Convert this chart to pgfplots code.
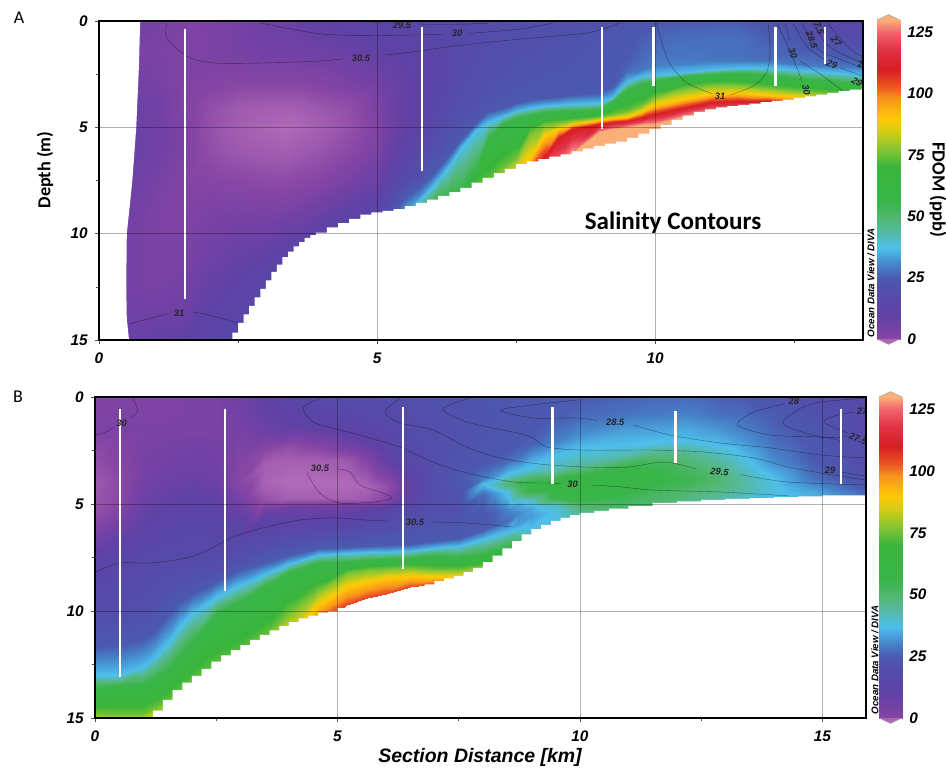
\documentclass[border=0pt]{standalone}
\usepackage{fontspec}
\setmainfont{Liberation Sans}
\newfontfamily\calibri{Carlito}
\usepackage{pgfplots}
\pgfplotsset{compat=1.18}
\pgfplotsset{
  colormap={odv}{[1pt]
    rgb255(0pt)=(176,106,184); rgb255(5pt)=(158,90,175); rgb255(10pt)=(136,70,165);
    rgb255(15pt)=(115,65,165); rgb255(20pt)=(95,65,165); rgb255(28pt)=(85,75,170);
    rgb255(35pt)=(75,90,175); rgb255(40pt)=(70,130,200); rgb255(47pt)=(78,190,235);
    rgb255(55pt)=(85,185,150); rgb255(60pt)=(80,183,110); rgb255(66pt)=(57,181,74);
    rgb255(80pt)=(57,181,60); rgb255(88pt)=(140,198,50); rgb255(95pt)=(215,205,20);
    rgb255(100pt)=(255,200,5); rgb255(108pt)=(247,148,29); rgb255(113pt)=(235,85,35);
    rgb255(120pt)=(215,30,35); rgb255(128pt)=(225,50,70); rgb255(135pt)=(240,100,110);
    rgb255(140pt)=(250,175,120);
  },
  sect/.style={
    scale only axis, anchor=south west, y dir=reverse,
    ymin=0, ymax=15, xmin=0,
    ytick={0,5,10,15}, minor ytick={2.5,7.5,12.5},
    grid=major, grid style={black, opacity=0.3, line width=0.5pt},
    axis on top, axis line style={line width=1.1pt},
    tick style={black!70, line width=0.4pt}, tick align=outside,
    major tick length=3pt, minor tick length=2pt,
    xtick pos=bottom, ytick pos=left,
    /pgf/number format/assume math mode=true,
    tick label style={font=\fontsize{11.5}{13}\selectfont\bfseries\itshape},
    xticklabel style={yshift=-3pt}, yticklabel style={xshift=-2pt},
    point meta min=-10, point meta max=130,
  },
  field/.style={surf, shader=interp, point meta=explicit, mesh/rows=14, mesh/ordering=y varies, forget plot},
  cont/.style={black, line width=0.3pt, opacity=0.45, smooth, forget plot},
  cast/.style={white, line width=1.9pt, forget plot},
  mask/.style={fill=white, draw=none, forget plot},
  cbar/.style={
    scale only axis, anchor=south west, width=17.25pt, xmin=0, xmax=1, ymin=0, ymax=130,
    clip=false, xtick=\empty, ytick={0,25,50,75,100,125},
    ytick pos=both, yticklabel pos=right, tick align=inside, major tick length=3pt,
    tick style={black!70, line width=0.5pt}, axis line style={black!35, line width=0.6pt},
    /pgf/number format/assume math mode=true,
    tick label style={font=\fontsize{11.5}{13}\selectfont\bfseries\itshape},
    yticklabel style={xshift=2pt},
    point meta min=-10, point meta max=130,
  },
}
\tikzset{lab/.style={font=\fontsize{7}{8}\selectfont\bfseries\itshape, text=black!85, inner sep=0pt}}
\begin{document}
\begin{tikzpicture}
\path[use as bounding box] (0,0) rectangle (709.5pt,576.75pt);

% panel A
\begin{axis}[sect, at={(74.25pt,321.75pt)}, width=573pt, height=239.25pt, xmax=13.74,
  xtick={0,5,10}, minor xtick={2.5,7.5,12.5}]
\addplot[field] coordinates {
(0.4,0)[5] (0.4,1.5)[4] (0.4,3)[6] (0.4,4)[7] (0.4,5)[8] (0.4,6)[8] (0.4,7.5)[7] (0.4,9)[6] (0.4,10.5)[5] (0.4,12)[5] (0.4,13.5)[6] (0.4,15)[8] (0.4,17)[10] (0.4,20)[12]
(1,0)[4] (1,1.5)[3] (1,3)[4] (1,4)[6] (1,5)[6] (1,6)[6] (1,7.5)[4] (1,9)[3] (1,10.5)[3] (1,12)[3] (1,13.5)[5] (1,15)[9] (1,17)[12] (1,20)[15]
(1.5,0)[3] (1.5,1.5)[2] (1.5,3)[2] (1.5,4)[2] (1.5,5)[3] (1.5,6)[3] (1.5,7.5)[2] (1.5,9)[2] (1.5,10.5)[3] (1.5,12)[4] (1.5,13.5)[6] (1.5,15)[10] (1.5,17)[14] (1.5,20)[18]
(2,0)[3] (2,1.5)[3] (2,3)[1] (2,4)[-2] (2,5)[-3] (2,6)[-2] (2,7.5)[1] (2,9)[3] (2,10.5)[5] (2,12)[8] (2,13.5)[10] (2,15)[13] (2,17)[16] (2,20)[20]
(2.5,0)[4] (2.5,1.5)[4] (2.5,3)[0] (2.5,4)[-5] (2.5,5)[-6.5] (2.5,6)[-5] (2.5,7.5)[0] (2.5,9)[4] (2.5,10.5)[7] (2.5,12)[10] (2.5,13.5)[13] (2.5,15)[16] (2.5,17)[20] (2.5,20)[24]
(3,0)[6] (3,1.5)[5] (3,3)[0] (3,4)[-6] (3,5)[-8.5] (3,6)[-6] (3,7.5)[-1] (3,9)[3] (3,10.5)[8] (3,12)[13] (3,13.5)[16] (3,15)[20] (3,17)[24] (3,20)[28]
(3.4,0)[7] (3.4,1.5)[5] (3.4,3)[0] (3.4,4)[-6.5] (3.4,5)[-10] (3.4,6)[-6.5] (3.4,7.5)[-1] (3.4,9)[4] (3.4,10.5)[10] (3.4,12)[16] (3.4,13.5)[20] (3.4,15)[24] (3.4,17)[28] (3.4,20)[30]
(4,0)[10] (4,1.5)[6] (4,3)[1] (4,4)[-4] (4,5)[-6.5] (4,6)[-4] (4,7.5)[1] (4,9)[7] (4,10.5)[15] (4,12)[22] (4,13.5)[26] (4,15)[30] (4,17)[32] (4,20)[34]
(4.5,0)[12] (4.5,1.5)[7] (4.5,3)[3] (4.5,4)[-2] (4.5,5)[-3] (4.5,6)[-1] (4.5,7.5)[4] (4.5,9)[11] (4.5,10.5)[20] (4.5,12)[26] (4.5,13.5)[30] (4.5,15)[34] (4.5,17)[36] (4.5,20)[38]
(5,0)[14] (5,1.5)[9] (5,3)[5] (5,4)[3] (5,5)[2] (5,6)[3] (5,7.5)[7] (5,9)[14] (5,10.5)[25] (5,12)[30] (5,13.5)[34] (5,15)[36] (5,17)[38] (5,20)[40]
(5.5,0)[15] (5.5,1.5)[11] (5.5,3)[9] (5.5,5)[9] (5.5,6.5)[13] (5.5,7.5)[18] (5.5,8.3)[25] (5.5,9.2)[37] (5.5,9.8)[57] (5.5,10.5)[75] (5.5,11)[90] (5.5,11.5)[110] (5.5,12)[130] (5.5,20)[130]
(6,0)[16] (6,1.5)[14] (6,3)[13] (6,5)[16] (6,6)[20] (6,7)[24] (6,7.2)[25] (6,7.75)[37] (6,8.6)[57] (6,9.5)[75] (6,10)[90] (6,10.5)[110] (6,11)[130] (6,20)[130]
(6.25,0)[16] (6.25,1.5)[15] (6.25,3)[15] (6.25,4.5)[18] (6.25,5.5)[21] (6.25,6.1)[24] (6.25,6.4)[25] (6.25,6.95)[37] (6.25,8.3)[57] (6.25,9.2)[75] (6.25,9.7)[90] (6.25,10.2)[110] (6.25,10.7)[130] (6.25,20)[130]
(6.5,0)[17] (6.5,1.5)[17] (6.5,3)[18] (6.5,4)[20] (6.5,5)[22] (6.5,5.5)[24] (6.5,5.6)[25] (6.5,6)[37] (6.5,8.1)[57] (6.5,9)[75] (6.5,9.5)[90] (6.5,10)[110] (6.5,10.5)[130] (6.5,20)[130]
(6.75,0)[17.5] (6.75,1.5)[18] (6.75,3)[19.5] (6.75,4)[21] (6.75,4.6)[23] (6.75,4.8)[24] (6.75,4.9)[25] (6.75,5.2)[37] (6.75,7.1)[57] (6.75,8)[75] (6.75,8.7)[90] (6.75,9.2)[110] (6.75,9.7)[130] (6.75,20)[130]
(7,0)[18] (7,1)[19] (7,2)[20] (7,3)[21] (7,3.7)[22] (7,4.1)[24] (7,4.3)[25] (7,4.75)[37] (7,5.5)[57] (7,7.6)[75] (7,8.2)[90] (7,8.7)[110] (7,9.2)[130] (7,20)[130]
(7.25,0)[18.5] (7.25,1)[19.5] (7.25,2)[20.5] (7.25,3)[21.5] (7.25,3.6)[23] (7.25,3.95)[24] (7.25,4.1)[25] (7.25,4.5)[37] (7.25,4.85)[57] (7.25,6.9)[75] (7.25,7.6)[90] (7.25,8.2)[110] (7.25,8.7)[130] (7.25,20)[130]
(7.5,0)[19] (7.5,1)[20] (7.5,2)[21] (7.5,2.8)[22] (7.5,3.3)[23] (7.5,3.7)[24] (7.5,3.85)[25] (7.5,4.25)[37] (7.5,4.55)[57] (7.5,6.4)[75] (7.5,7.2)[90] (7.5,7.8)[110] (7.5,8.3)[130] (7.5,20)[130]
(7.75,0)[19.5] (7.75,1)[20.5] (7.75,2)[21.5] (7.75,2.7)[22.5] (7.75,3.15)[23] (7.75,3.55)[24] (7.75,3.7)[25] (7.75,4.08)[37] (7.75,4.4)[57] (7.75,5.2)[75] (7.75,6.45)[90] (7.75,7.2)[110] (7.75,8)[130] (7.75,20)[130]
(8,0)[20] (8,1)[21] (8,2)[22] (8,2.6)[23] (8,3)[23] (8,3.4)[24] (8,3.6)[25] (8,4)[37] (8,4.28)[57] (8,4.85)[75] (8,5.4)[90] (8,6.4)[110] (8,7.3)[130] (8,20)[130]
(8.25,0)[20] (8.25,1)[21.5] (8.25,2)[22.5] (8.25,2.6)[23] (8.25,3)[23.5] (8.25,3.35)[24] (8.25,3.55)[25] (8.25,3.95)[37] (8.25,4.25)[57] (8.25,4.77)[75] (8.25,5.1)[90] (8.25,5.5)[110] (8.25,6.9)[130] (8.25,20)[130]
(8.5,0)[20] (8.5,1)[22] (8.5,2)[23] (8.5,2.6)[23] (8.5,3)[24] (8.5,3.3)[24] (8.5,3.5)[25] (8.5,3.9)[37] (8.5,4.25)[57] (8.5,4.66)[75] (8.5,4.83)[90] (8.5,5.07)[110] (8.5,6.2)[130] (8.5,20)[130]
(9,0)[21] (9,1)[23] (9,1.8)[24] (9,2.4)[24] (9,2.9)[24] (9,3.2)[24] (9,3.4)[25] (9,3.85)[37] (9,4.15)[57] (9,4.5)[75] (9,4.65)[90] (9,4.82)[110] (9,5.2)[130] (9,20)[130]
(9.25,0)[21.5] (9.25,0.9)[23.5] (9.25,1.6)[24] (9.25,2.2)[24.5] (9.25,2.6)[25] (9.25,2.95)[25] (9.25,3.1)[26] (9.25,3.55)[37] (9.25,3.78)[57] (9.25,4.35)[75] (9.25,4.57)[90] (9.25,4.75)[110] (9.25,5.08)[130] (9.25,20)[130]
(9.5,0)[22] (9.5,0.8)[24] (9.5,1.4)[25] (9.5,1.8)[25] (9.5,2.1)[26] (9.5,2.3)[27] (9.5,2.4)[28] (9.5,2.85)[37] (9.5,3.25)[57] (9.5,4.23)[75] (9.5,4.5)[90] (9.5,4.7)[110] (9.5,5)[130] (9.5,20)[130]
(9.75,0)[23] (9.75,0.7)[25] (9.75,1.25)[26] (9.75,1.65)[27] (9.75,1.95)[27.5] (9.75,2.15)[28] (9.75,2.3)[29] (9.75,2.6)[37] (9.75,2.95)[57] (9.75,3.95)[75] (9.75,4.3)[90] (9.75,4.55)[110] (9.75,4.9)[130] (9.75,20)[130]
(10,0)[24] (10,0.6)[26] (10,1.1)[27] (10,1.5)[28] (10,1.8)[29] (10,2)[29] (10,2.15)[31] (10,2.52)[37] (10,2.77)[57] (10,3.52)[75] (10,3.95)[90] (10,4.37)[110] (10,4.84)[130] (10,20)[130]
(10.5,0)[25] (10.5,0.6)[27] (10.5,1.1)[28] (10.5,1.5)[28] (10.5,1.8)[29] (10.5,2)[30] (10.5,2.15)[33] (10.5,2.44)[37] (10.5,2.6)[57] (10.5,3.14)[75] (10.5,3.65)[90] (10.5,4.1)[110] (10.5,4.5)[130] (10.5,20)[130]
(11,0)[25] (11,0.5)[27] (11,1)[28] (11,1.4)[28] (11,1.7)[28] (11,1.95)[30] (11,2.05)[33] (11,2.3)[37] (11,2.5)[57] (11,2.95)[75] (11,3.42)[90] (11,3.82)[110] (11,4.25)[130] (11,20)[130]
(11.5,0)[25] (11.5,0.5)[27] (11.5,1)[28] (11.5,1.4)[28] (11.5,1.7)[28] (11.5,1.9)[29] (11.5,2)[33] (11.5,2.22)[37] (11.5,2.45)[57] (11.5,2.96)[75] (11.5,3.38)[90] (11.5,3.75)[110] (11.5,4.2)[130] (11.5,20)[130]
(12,0)[23] (12,0.5)[25] (12,1)[26] (12,1.4)[27] (12,1.7)[27] (12,1.9)[29] (12,2)[33] (12,2.22)[37] (12,2.55)[57] (12,3.1)[75] (12,3.47)[90] (12,3.75)[110] (12,4.3)[130] (12,20)[130]
(12.5,0)[20] (12.5,0.5)[23] (12.5,1)[25] (12.5,1.4)[26] (12.5,1.7)[27] (12.5,2)[29] (12.5,2.1)[33] (12.5,2.3)[37] (12.5,2.66)[57] (12.5,3.25)[75] (12.5,3.55)[90] (12.5,3.9)[110] (12.5,4.4)[130] (12.5,20)[130]
(13,0)[16] (13,0.5)[18] (13,1)[22] (13,1.4)[25] (13,1.8)[27] (13,2.1)[29] (13,2.2)[33] (13,2.4)[37] (13,2.78)[57] (13,3.35)[75] (13,3.7)[90] (13,4)[110] (13,4.5)[130] (13,20)[130]
(13.74,0)[14] (13.74,0.5)[16] (13.74,1)[19] (13.74,1.5)[23] (13.74,1.9)[26] (13.74,2.2)[29] (13.74,2.35)[33] (13.74,2.55)[37] (13.74,3)[57] (13.74,3.5)[75] (13.74,3.8)[90] (13.74,4.1)[110] (13.74,4.6)[130] (13.74,20)[130]
};
% sea floor and the land edge
\addplot[mask] coordinates {(0,0) (0.74,0) (0.72,2) (0.67,5) (0.6,7.5) (0.5,10) (0.49,12.5) (0.5,14) (0.54,15) (0,15)};
\addplot[mask, const plot] coordinates {(2.32,15) (2.4,14.65) (2.5,14.2) (2.6,13.8) (2.7,13.4) (2.8,13) (2.9,12.6) (3,12.2) (3.1,11.8) (3.2,11.45) (3.3,11.1) (3.4,10.85) (3.5,10.6) (3.6,10.4) (3.7,10.2) (3.8,10.07) (3.9,9.95) (4.1,9.7) (4.3,9.5) (4.5,9.3) (4.7,9.1) (4.9,9) (5.1,8.93) (5.3,8.85) (5.5,8.7) (5.7,8.55) (5.9,8.4) (6.1,8.22) (6.3,8.05) (6.5,7.85) (6.7,7.6) (6.9,7.38) (7.1,7.15) (7.3,6.95) (7.5,6.73) (7.7,6.6) (7.9,6.5) (8.1,6.38) (8.3,6.27) (8.5,6.13) (8.7,6) (8.9,5.87) (9.1,5.77) (9.3,5.67) (9.5,5.5) (9.7,5.3) (9.9,5.08) (10.1,4.88) (10.3,4.65) (10.5,4.45) (10.7,4.27) (10.9,4.15) (11.1,4.06) (11.3,4) (11.5,3.94) (11.7,3.88) (11.9,3.82) (12.1,3.76) (12.3,3.7) (12.5,3.62) (12.7,3.54) (12.9,3.46) (13.1,3.38) (13.3,3.3) (13.5,3.23) (13.74,3.15) (13.74,15) (2.32,15)};
% salinity contours
\addplot[cont] coordinates {(1.22,0.09) (1.22,0.8) (1.58,1.65) (2.05,1.97) (3.02,1.97) (3.97,1.88) (4.4,1.78)};
\addplot[cont] coordinates {(5.15,1.6) (5.77,1.41) (6.37,1.18) (7.57,0.85) (8.78,0.56) (9.37,0.09)};
\addplot[cont] coordinates {(2.9,0.09) (3.97,0.6) (5,0.68) (6.2,0.62)};
\addplot[cont] coordinates {(6.65,0.58) (7.57,0.38) (8.17,0.09)};
\addplot[cont] coordinates {(4.9,0.05) (5.15,0.1)};
\addplot[cont] coordinates {(5.8,0.15) (6.5,0.15) (7,0.1)};
\addplot[cont] coordinates {(0.54,14.25) (1.22,13.77)};
\addplot[cont] coordinates {(1.69,13.68) (2.05,13.87) (2.5,14.2)};
\addplot[cont] coordinates {(10.02,0.05) (10.13,1.08) (10.27,2.02) (10.57,2.9) (11.04,3.43)};
\addplot[cont] coordinates {(11.35,3.48) (11.76,3.06) (12,2.44) (12.07,1.41) (12.03,0.05)};
\addplot[cont] coordinates {(12.19,0.09) (12.37,1.08) (12.55,2.2) (12.64,2.82)};
\addplot[cont] coordinates {(12.34,0.09) (12.42,0.9)};
\addplot[cont] coordinates {(12.6,1.88) (12.97,2.5) (13.38,3.29)};
\addplot[cont] coordinates {(12.48,0.09) (12.66,0.94) (12.82,1.41) (13.09,1.88)};
\addplot[cont] coordinates {(13.33,2.2) (13.72,2.58)};
\addplot[cont] coordinates {(12.64,0.09) (12.79,0.8) (12.97,1.41) (13.27,1.74) (13.72,2.2)};
\addplot[cont] coordinates {(12.84,0.09) (13.06,1.03) (13.33,1.5) (13.72,1.97)};
\addplot[cont] coordinates {(13.1,0.09) (13.45,1.18) (13.72,1.67)};
% stations
\addplot[cast] coordinates {(1.55,0.37) (1.55,13.07)};
\addplot[cast] coordinates {(5.81,0.28) (5.81,7.05)};
\addplot[cast] coordinates {(9.05,0.28) (9.05,5.08)};
\addplot[cast] coordinates {(9.97,0.3) (9.97,3.05)};
\addplot[cast] coordinates {(12.17,0.3) (12.17,3.05)};
\addplot[cast] coordinates {(13.06,0.3) (13.06,2.03)};
\node[lab] at (axis cs:5.45,0.19) {29.5};
\node[lab] at (axis cs:6.44,0.56) {30};
\node[lab] at (axis cs:4.71,1.74) {30.5};
\node[lab] at (axis cs:1.44,13.73) {31};
\node[lab] at (axis cs:11.17,3.53) {31};
\node[lab, rotate=-70] at (axis cs:12.48,1.5) {30};
\node[lab, rotate=-70] at (axis cs:12.82,0.9) {28.5};
\node[lab, rotate=-70] at (axis cs:12.95,0.33) {7.5};
\node[lab, rotate=-50] at (axis cs:13.26,0.94) {27};
\node[lab, rotate=-20] at (axis cs:13.18,2.03) {29};
\node[lab, rotate=-30] at (axis cs:13.63,2.87) {29};
\node[lab, rotate=-80] at (axis cs:12.72,3.24) {30};
\node[lab] at (axis cs:13.69,2.02) {2};
\end{axis}

% panel B
\begin{axis}[sect, at={(71.25pt,38.25pt)}, width=578.25pt, height=240.75pt, xmax=15.9,
  xtick={0,5,10,15}, minor xtick={2.5,7.5,12.5}]
\addplot[field] coordinates {
(0,0)[2] (0,1.5)[2] (0,3)[-2] (0,4)[-5] (0,5)[-4] (0,6)[1] (0,7.5)[11] (0,10)[18] (0,11.7)[25] (0,13)[37] (0,13.6)[57] (0,14.75)[75] (0,15.3)[90] (0,16)[105]
(0.5,0)[2] (0.5,1.5)[3] (0.5,3)[1] (0.5,4)[-1] (0.5,5)[0] (0.5,6)[5] (0.5,7.5)[14] (0.5,10)[19] (0.5,11.6)[25] (0.5,13)[37] (0.5,13.5)[57] (0.5,14.8)[75] (0.5,15.3)[90] (0.5,16)[105]
(1,0)[2] (1,1.5)[3] (1,3)[4] (1,4)[5] (1,5)[7] (1,6)[10] (1,7.5)[16] (1,10)[20] (1,11.3)[25] (1,12.6)[37] (1,13.45)[57] (1,14.8)[75] (1,15.3)[90] (1,16)[105]
(1.25,0)[2] (1.25,1.5)[3] (1.25,3)[4.5] (1.25,4)[6] (1.25,5)[8.5] (1.25,6)[11.5] (1.25,7.5)[16.5] (1.25,9.8)[21] (1.25,10.9)[25] (1.25,12.1)[37] (1.25,13.2)[57] (1.25,14.5)[75] (1.25,15.2)[90] (1.25,16)[105]
(1.5,0)[2] (1.5,1.5)[3] (1.5,3)[5] (1.5,4)[7] (1.5,5)[10] (1.5,6)[13] (1.5,7.5)[17] (1.5,9.5)[22] (1.5,10.2)[25] (1.5,11.5)[37] (1.5,12.8)[57] (1.5,14.2)[75] (1.5,15)[90] (1.5,16)[105]
(1.75,0)[2.5] (1.75,1.5)[3] (1.75,3)[5.5] (1.75,4)[7.5] (1.75,5)[10.5] (1.75,6)[14] (1.75,7.5)[17] (1.75,9)[22] (1.75,9.6)[25] (1.75,10.7)[37] (1.75,12.1)[57] (1.75,13.8)[75] (1.75,14.7)[90] (1.75,16)[105]
(2,0)[3] (2,1.5)[3] (2,3)[6] (2,4)[8] (2,5)[11] (2,6)[14.5] (2,7.5)[17] (2,8.8)[22] (2,9.2)[25] (2,10.1)[37] (2,11.5)[57] (2,13.4)[75] (2,14.5)[90] (2,16)[105]
(2.5,0)[3] (2.5,1.5)[3] (2.5,3)[5] (2.5,4)[7] (2.5,5)[11] (2.5,6)[14] (2.5,7.5)[17] (2.5,8.2)[21] (2.5,8.65)[25] (2.5,9.35)[37] (2.5,10.2)[57] (2.5,12.6)[75] (2.5,13.5)[90] (2.5,15)[105]
(3,0)[6] (3,1.5)[4] (3,3)[1] (3,4)[0] (3,5)[5] (3,6)[13] (3,7)[17] (3,7.8)[22] (3,8.1)[25] (3,8.8)[37] (3,9.6)[57] (3,12)[75] (3,13)[90] (3,14.5)[105]
(3.5,0)[10] (3.5,1.5)[7] (3.5,2.5)[-1] (3.5,3.2)[-7] (3.5,4)[-8] (3.5,4.8)[-3] (3.5,5.4)[9] (3.5,7)[20] (3.5,7.7)[25] (3.5,8.25)[37] (3.5,8.85)[57] (3.5,11.2)[75] (3.5,12.2)[90] (3.5,13.5)[105]
(4,0)[13] (4,1.5)[9] (4,2.3)[-2] (4,3)[-7] (4,4)[-10] (4,4.7)[-7] (4,5.2)[7] (4,6.8)[21] (4,7.4)[25] (4,7.8)[37] (4,8.2)[57] (4,10)[75] (4,11.2)[90] (4,12.5)[105]
(4.6,0)[17] (4.6,1.4)[11] (4.6,2.2)[2] (4.6,3)[-7] (4.6,4)[-10] (4.6,4.7)[-7] (4.6,5.1)[5] (4.6,6.5)[20] (4.6,7.05)[25] (4.6,7.4)[37] (4.6,7.75)[57] (4.6,8.95)[75] (4.6,9.7)[90] (4.6,10.5)[105]
(5.2,0)[18] (5.2,1.3)[13] (5.2,2.2)[6] (5.2,3)[-5] (5.2,4)[-10] (5.2,4.7)[-7] (5.2,5.1)[5] (5.2,6.4)[20] (5.2,7)[25] (5.2,7.28)[37] (5.2,7.72)[57] (5.2,8.2)[75] (5.2,8.9)[90] (5.2,9.7)[105]
(5.6,0)[18.5] (5.6,1.3)[14.5] (5.6,2.2)[9] (5.6,3)[1] (5.6,4.2)[-8] (5.6,4.8)[-4] (5.6,5.2)[9] (5.6,6.3)[20.5] (5.6,6.95)[25] (5.6,7.26)[37] (5.6,7.62)[57] (5.6,8.05)[75] (5.6,8.65)[90] (5.6,9.4)[105]
(6,0)[19] (6,1.3)[16] (6,2.2)[13] (6,3)[9] (6,4.2)[-3] (6,4.8)[1] (6,5.3)[13] (6,6.3)[21] (6,6.9)[25] (6,7.25)[37] (6,7.55)[57] (6,7.98)[75] (6,8.45)[90] (6,9.2)[105]
(6.5,0)[20] (6.5,1.3)[18] (6.5,2.2)[18] (6.5,3)[16] (6.5,4.2)[9] (6.5,4.7)[12] (6.5,5.3)[17] (6.5,6.2)[22] (6.5,6.85)[25] (6.5,7.2)[37] (6.5,7.5)[57] (6.5,7.95)[75] (6.5,8.35)[90] (6.5,8.9)[105]
(7,0)[21] (7,1.3)[20] (7,2.2)[20] (7,3)[20] (7,4)[20] (7,4.7)[19] (7,5.3)[20] (7,6.1)[23] (7,6.75)[25] (7,7.05)[37] (7,7.45)[57] (7,8.05)[75] (7,8.4)[90] (7,8.75)[105]
(7.5,0)[22] (7.5,1.3)[21] (7.5,2.2)[21] (7.5,3)[22] (7.5,3.8)[24] (7.5,4.5)[22] (7.5,5.3)[21] (7.5,6.1)[24] (7.5,6.6)[25] (7.5,6.95)[37] (7.5,7.5)[57] (7.5,8.05)[75] (7.5,8.4)[90] (7.5,8.7)[105]
(8,0)[23] (8,1.3)[22] (8,2.2)[23] (8,3)[24] (8,3.8)[29] (8,4.08)[37] (8,4.55)[27] (8,5.5)[24] (8,6.2)[25] (8,6.65)[37] (8,7.4)[57] (8,7.9)[75] (8,8.2)[90] (8,8.5)[105]
(8.25,0)[23.5] (8.25,1.3)[22.5] (8.25,2.2)[23.5] (8.25,3)[25] (8.25,3.7)[32] (8.25,4.08)[42] (8.25,4.5)[32] (8.25,5.4)[26] (8.25,6)[26] (8.25,6.45)[37] (8.25,7.2)[57] (8.25,7.7)[75] (8.25,8.1)[90] (8.25,8.4)[105]
(8.5,0)[24] (8.5,1.2)[23] (8.5,2.2)[24] (8.5,3)[27] (8.5,3.6)[37] (8.5,4.05)[50] (8.5,4.45)[38] (8.5,5.3)[30] (8.5,5.8)[27] (8.5,6.3)[37] (8.5,7)[57] (8.5,7.5)[75] (8.5,8)[90] (8.5,8.3)[105]
(8.75,0)[24] (8.75,1.1)[23.5] (8.75,2.1)[24.5] (8.75,2.9)[29] (8.75,3.45)[37] (8.75,4)[55] (8.75,4.42)[50] (8.75,4.95)[35] (8.75,5.4)[31] (8.75,5.9)[32] (8.75,6.3)[40] (8.75,6.7)[50] (8.75,7.2)[55] (8.75,7.5)[60]
(9,0)[24] (9,1.2)[24] (9,2.2)[26] (9,2.9)[34] (9,3.4)[39] (9,3.95)[57] (9,4.4)[57] (9,4.8)[40] (9,5.2)[34] (9,5.6)[33] (9,6.1)[37] (9,6.5)[45] (9,7)[50] (9,7.5)[50]
(9.5,0)[25] (9.5,1.2)[26] (9.5,2.1)[30] (9.5,2.7)[37] (9.5,3.4)[43] (9.5,3.85)[57] (9.5,4.25)[62] (9.5,4.7)[57] (9.5,5)[42] (9.5,5.3)[38] (9.5,5.7)[38] (9.5,6.2)[40] (9.5,6.7)[40] (9.5,7.2)[40]
(10,0)[25] (10,0.9)[27] (10,1.8)[32] (10,2.4)[37] (10,3.2)[44] (10,3.7)[57] (10,4.2)[60] (10,4.9)[55] (10,5.1)[50] (10,5.4)[45] (10,5.7)[42] (10,6)[40] (10,6.5)[40] (10,7)[40]
(10.8,0)[26] (10.8,0.8)[28] (10.8,1.7)[34] (10.8,2.25)[37] (10.8,2.85)[44] (10.8,3.3)[57] (10.8,4)[60] (10.8,4.7)[55] (10.8,5.1)[52] (10.8,5.3)[50] (10.8,5.6)[45] (10.8,6)[40] (10.8,6.5)[40] (10.8,7)[40]
(11.5,0)[27] (11.5,0.8)[29] (11.5,1.4)[33] (11.5,2.1)[37] (11.5,2.6)[46] (11.5,3.2)[55] (11.5,3.9)[58] (11.5,4.6)[52] (11.5,5)[50] (11.5,5.3)[48] (11.5,5.6)[45] (11.5,6)[40] (11.5,6.5)[40] (11.5,7)[40]
(12.2,0)[27] (12.2,0.8)[30] (12.2,1.4)[34] (12.2,2)[37] (12.2,2.5)[45] (12.2,3.3)[52] (12.2,3.9)[55] (12.2,4.4)[50] (12.2,4.9)[47] (12.2,5.2)[46] (12.2,5.6)[45] (12.2,6)[40] (12.2,6.5)[40] (12.2,7)[40]
(12.8,0)[26] (12.8,0.8)[28] (12.8,1.4)[32] (12.8,2.25)[37] (12.8,2.9)[44] (12.8,3.6)[50] (12.8,4)[50] (12.8,4.4)[47] (12.8,4.8)[44] (12.8,5.2)[42] (12.8,5.6)[42] (12.8,6)[40] (12.8,6.5)[40] (12.8,7)[40]
(13.4,0)[25] (13.4,0.8)[27] (13.4,1.4)[29] (13.4,2)[32] (13.4,2.8)[37] (13.4,3.8)[43] (13.4,4.2)[44] (13.4,4.5)[42] (13.4,4.8)[40] (13.4,5.2)[40] (13.4,5.6)[40] (13.4,6)[40] (13.4,6.5)[40] (13.4,7)[40]
(14,0)[22] (14,0.8)[25] (14,1.4)[26] (14,2.2)[28] (14,3)[31] (14,3.8)[37] (14,4.2)[38] (14,4.5)[38] (14,4.8)[37] (14,5.2)[36] (14,5.6)[36] (14,6)[36] (14,6.5)[36] (14,7)[36]
(14.8,0)[19] (14.8,0.8)[21] (14.8,1.4)[23] (14.8,2.2)[24] (14.8,3)[25] (14.8,3.8)[28] (14.8,4.3)[33] (14.8,4.5)[35] (14.8,4.7)[35] (14.8,5.2)[35] (14.8,5.6)[35] (14.8,6)[35] (14.8,6.5)[35] (14.8,7)[35]
(15.9,0)[17] (15.9,0.8)[17] (15.9,1.4)[17] (15.9,2.2)[18] (15.9,3)[19] (15.9,3.8)[21] (15.9,4.2)[24] (15.9,4.5)[27] (15.9,4.7)[28] (15.9,5.2)[28] (15.9,5.6)[28] (15.9,6)[28] (15.9,6.5)[28] (15.9,7)[28]
};
\addplot[mask, const plot] coordinates {(1.06,15) (1.2,14.65) (1.4,14.15) (1.6,13.7) (1.8,13.35) (2,13.03) (2.2,12.7) (2.4,12.37) (2.6,12.07) (2.8,11.83) (3,11.6) (3.2,11.35) (3.4,11.12) (3.6,10.9) (3.8,10.7) (4,10.52) (4.2,10.35) (4.4,10.22) (4.6,10.08) (4.8,10.02) (5,9.86) (5.2,9.74) (5.4,9.63) (5.6,9.52) (5.8,9.4) (6,9.28) (6.2,9.17) (6.4,9.03) (6.6,8.89) (6.8,8.75) (7,8.6) (7.2,8.47) (7.4,8.36) (7.6,8.18) (7.8,7.98) (8,7.72) (8.2,7.41) (8.4,7.07) (8.6,6.73) (8.8,6.42) (9,6.17) (9.2,5.97) (9.4,5.79) (9.6,5.65) (9.8,5.52) (10,5.42) (10.3,5.32) (10.6,5.22) (11,5.1) (11.5,4.95) (12,4.88) (12.5,4.81) (13,4.76) (13.5,4.72) (14,4.68) (14.5,4.64) (15,4.6) (15.9,4.53) (15.9,15) (1.06,15)};
% salinity contours
\addplot[cont] coordinates {(0.78,0.05) (0.88,0.65) (0.72,1)};
\addplot[cont] coordinates {(0.4,1.4) (0.23,1.63) (0,1.78)};
\addplot[cont] coordinates {(0,8.18) (0.5,7.76) (1.13,7.76) (1.89,7.52) (2.43,7.05) (2.84,6.54) (3.54,6.07) (4.23,5.75) (4.91,5.65) (5.6,5.75) (6.05,5.8)};
\addplot[cont] coordinates {(6.95,5.84) (7.67,5.89) (8.63,6.07)};
\addplot[cont] coordinates {(4.37,3.55) (4.64,4.5) (5.05,4.95) (5.73,4.91) (6.12,4.72) (5.88,4.44) (5.46,4.11) (5.26,3.5) (4.99,3.36)};
\addplot[cont] coordinates {(4.64,0.05) (4.29,0.5) (4.5,1.17) (4.91,1.45) (5.6,1.87) (6.29,2.34) (6.97,3.04) (7.67,3.55) (8.63,3.97) (9.33,4.02) (9.6,4.05)};
\addplot[cont] coordinates {(10.22,4.11) (10.84,4.2) (11.52,4.35) (12.9,4.44) (14.3,4.62)};
\addplot[cont] coordinates {(6.29,0.05) (5.98,0.7) (6.29,1.21) (6.97,1.54) (7.67,2.34) (8.36,2.85) (9.39,3.18) (10.84,3.3) (11.73,3.04) (12.4,3.36)};
\addplot[cont] coordinates {(13.3,3.62) (14.28,3.97) (15.9,4.11)};
\addplot[cont] coordinates {(7.74,0.05) (7.18,0.55) (7.67,1.17) (8.71,1.68) (9.04,1.92) (9.33,2.34) (10.08,2.48) (11.52,2.48) (12.56,2.57) (13.59,2.85) (14.28,3.27) (14.97,3.55) (15.9,3.88)};
\addplot[cont] coordinates {(9.95,0.14) (9.04,0.37) (8.36,0.62) (9.04,0.98) (9.95,0.98) (10.35,1.1)};
\addplot[cont] coordinates {(11.1,1.31) (11.87,1.78) (12.9,2.15) (13.93,2.38) (14.97,2.71) (15.9,2.85)};
\addplot[cont] coordinates {(14.2,0.33) (13.59,0.7) (13.25,1.31) (13.94,1.78) (14.97,1.87) (15.4,2.05)};
\addplot[cont] coordinates {(15.9,0.05) (14.97,0.23) (14.56,0.51) (14.2,1.26) (14.97,1.87) (15.5,1.85)};
\addplot[cont] coordinates {(15.65,0.7) (15.32,0.84) (15.03,1.17) (15.52,1.68)};
\addplot[cont] coordinates {(15.38,3.5) (15.9,3.7)};
% stations
\addplot[cast] coordinates {(0.52,0.56) (0.52,13.08)};
\addplot[cast] coordinates {(2.68,0.56) (2.68,9.07)};
\addplot[cast] coordinates {(6.35,0.47) (6.35,8.04)};
\addplot[cast] coordinates {(9.43,0.47) (9.43,4.07)};
\addplot[cast] coordinates {(11.97,0.65) (11.97,3.08)};
\addplot[cast] coordinates {(15.38,0.56) (15.38,4.07)};
\node[lab] at (axis cs:0.55,1.21) {30};
\node[lab] at (axis cs:4.64,3.32) {30.5};
\node[lab] at (axis cs:6.6,5.84) {30.5};
\node[lab] at (axis cs:9.85,4.07) {30};
\node[lab] at (axis cs:10.73,1.2) {28.5};
\node[lab, rotate=-5] at (axis cs:12.88,3.5) {29.5};
\node[lab] at (axis cs:15.16,3.41) {29};
\node[lab] at (axis cs:14.41,0.19) {28};
\node[lab] at (axis cs:15.82,0.65) {27};
\node[lab, rotate=-20] at (axis cs:15.74,1.96) {27.5};
\end{axis}

% colour bars
\begin{axis}[cbar, at={(657.75pt,322.5pt)}, height=239.25pt]
\addplot[surf, shader=interp, point meta=explicit, mesh/rows=2, forget plot] coordinates {(0,0)[0] (1,0)[0] (0,130)[130] (1,130)[130]};
\addplot[fill={rgb,255:red,250;green,175;blue,120}, draw=black!35, forget plot] coordinates {(0,130) (0.5,132.2) (1,130)};
\addplot[fill={rgb,255:red,172;green,100;blue,182}, draw=black!35, forget plot] coordinates {(0,0) (0.5,-2.2) (1,0)};
\end{axis}
\begin{axis}[cbar, at={(659.25pt,38.25pt)}, height=240.75pt]
\addplot[surf, shader=interp, point meta=explicit, mesh/rows=2, forget plot] coordinates {(0,0)[0] (1,0)[0] (0,130)[130] (1,130)[130]};
\addplot[fill={rgb,255:red,250;green,175;blue,120}, draw=black!35, forget plot] coordinates {(0,130) (0.5,132.2) (1,130)};
\addplot[fill={rgb,255:red,172;green,100;blue,182}, draw=black!35, forget plot] coordinates {(0,0) (0.5,-2.2) (1,0)};
\end{axis}

% labels
\node[rotate=90, font=\calibri\fontsize{13.7}{15}\selectfont\bfseries] at (33.75pt,449.25pt) {Depth (m)};
\node[rotate=-90, font=\calibri\fontsize{14}{15}\selectfont\bfseries] at (703.5pt,434.25pt) {FDOM (ppb)};
\node[font=\calibri\fontsize{18.8}{20}\selectfont\bfseries] at (504.75pt,409.5pt) {Salinity Contours};
\node[font=\fontsize{14.6}{16}\selectfont\bfseries\itshape] at (360pt,9pt) {Section Distance [km]};
\node[font=\calibri\fontsize{13.5}{15}\selectfont] at (14.25pt,563.25pt) {A};
\node[font=\calibri\fontsize{13.5}{15}\selectfont] at (13.5pt,279pt) {B};
\node[rotate=90, font=\fontsize{7.3}{8}\selectfont\bfseries\itshape] at (653.25pt,364.5pt) {Ocean Data View / DIVA};
\node[rotate=90, font=\fontsize{7.3}{8}\selectfont\bfseries\itshape] at (656.25pt,81.75pt) {Ocean Data View / DIVA};
\end{tikzpicture}
\end{document}
